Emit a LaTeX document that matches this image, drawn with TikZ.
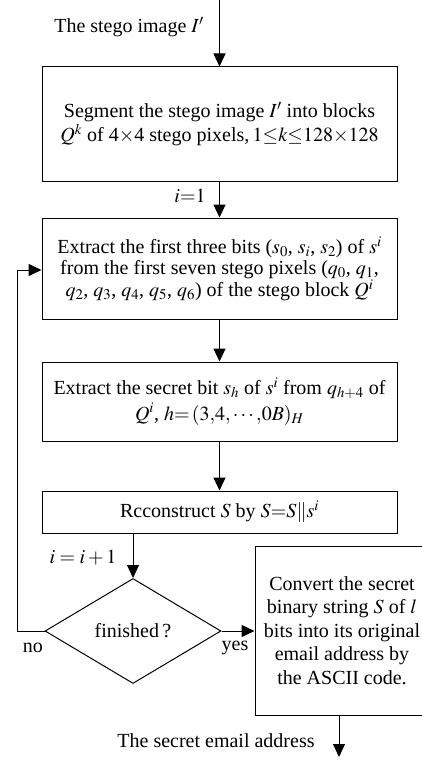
\documentclass[tikz,border=0pt]{standalone}
\usepackage{mathptmx}
\usepackage{fontspec}
\setmainfont{Liberation Serif}
\usetikzlibrary{arrows.meta,shapes.geometric}
\begin{document}
\begin{tikzpicture}[x=1pt,y=-1pt,
  every node/.style={font=\fontsize{20}{20}\selectfont},
  box/.style={draw,line width=1pt,inner sep=0pt,align=center},
  arr/.style={line width=1pt,-{Triangle[length=13pt,width=12pt]}},
  ln/.style={line width=1pt}]
\useasboundingbox (0,0) rectangle (422,760);
\fill[white] (0,0) rectangle (422,760);
\coordinate (top) at (219.5,0);
\node[box,minimum width=355pt,minimum height=114pt,font=\fontsize{20}{24}\selectfont] (b1) at (219.5,124)
  {Segment the stego image $I'$ into blocks\\ $Q^k$ of 4${\times}$4 stego pixels,\,$1{\le}k{\le}128{\times}128$};
\node[box,minimum width=355pt,minimum height=101pt,font=\fontsize{20}{21.5}\selectfont] (b2) at (219.5,268.5)
  {Extract the first three bits ($s_0$, $s_i$, $s_2$) of $s^i$\\ from the first seven stego pixels ($q_0$, $q_1$,\\ $q_2$, $q_3$, $q_4$, $q_5$, $q_6$) of the stego block $Q^i$};
\node[box,minimum width=355pt,minimum height=79pt,font=\fontsize{20}{25.5}\selectfont] (b3) at (219.5,401.5)
  {Extract the secret bit $s_h$ of $s^i$ from $q_{h+4}$ of\\ $Q^i$, $h{=}\,(3{,}4{,}\cdots{,}0B)_H$};
\node[box,minimum width=355pt,minimum height=42pt] (b4) at (219.5,512)
  {Rcconstruct $S$ by $S{=}S\|s^i$};
\node[draw,line width=1pt,diamond,inner sep=0pt,minimum width=176pt,minimum height=105pt] (d) at (133,631) {finished\,?};
\node[box,minimum width=200pt,minimum height=169pt] (b5) at (355,630.5) {};
\node[align=center,font=\fontsize{20}{23.5}\selectfont] (b5t) at (342,630.5)
  {Convert the secret\\ binary string $S$ of $l$\\ bits into its original\\ email address by\\ the ASCII code.};
\coordinate (end) at (339,757);
\coordinate (fb) at (17,631);
\coordinate (fb2) at (17,270);
\node (tin) at (129,27) {The stego image $I'$};
\node (i1) at (190,196) {$i{=}1$};
\node (ii) at (83,558) {$i=i+1$};
\node (no) at (33,648) {no};
\node (yes) at (235,648) {yes};
\node (tout) at (216,741) {The secret email address};
\draw[arr] (top) -- (b1.north);
\draw[arr] (b1.south) -- (b2.north);
\draw[arr] (b2.south) -- (b3.north);
\draw[arr] (b3.south) -- (b4.north);
\draw[arr] (b4.south -| d.north) -- (d.north);
\draw[arr] (d.east) -- (b5.west |- d.east);
\draw[arr] (d.west) -- (fb) -- (fb2) -- (b2.west |- fb2);
\draw[arr] (b5.south -| end) -- (end);
\end{tikzpicture}
\end{document}
